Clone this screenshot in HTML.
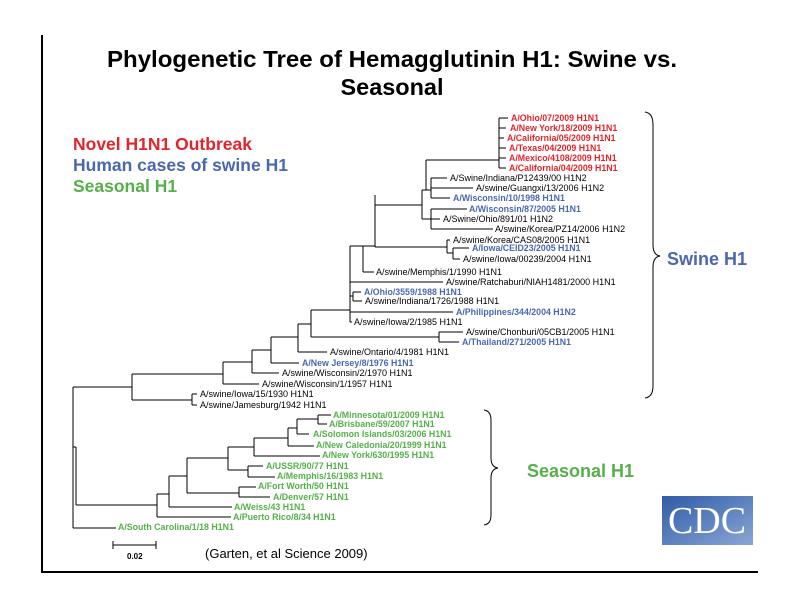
<!DOCTYPE html>
<html><head><meta charset="utf-8"><style>
html,body{margin:0;padding:0;background:#fff;}
svg{display:block;}
text{font-family:"Liberation Sans",Arial,sans-serif;}
.t{font-size:9px;fill:#000;}
.r{font-size:8.8px;fill:#e3242b;font-weight:bold;}
.b{font-size:8.8px;fill:#4a67b0;font-weight:bold;}
.g{font-size:8.8px;fill:#55b04a;font-weight:bold;}
</style></head><body>
<svg width="810" height="608" viewBox="0 0 810 608" xmlns="http://www.w3.org/2000/svg">
<defs><linearGradient id="cg" x1="0" y1="0" x2="1" y2="1"><stop offset="0" stop-color="#2f5ca6"/><stop offset="1" stop-color="#8aa6d6"/></linearGradient></defs>
<rect width="810" height="608" fill="#fff"/>
<line x1="42" y1="35" x2="42" y2="573" stroke="#000" stroke-width="2"/>
<line x1="41" y1="572" x2="758" y2="572" stroke="#000" stroke-width="2"/>
<text x="392" y="67" text-anchor="middle" font-size="23" font-weight="bold" textLength="570" lengthAdjust="spacingAndGlyphs">Phylogenetic Tree of Hemagglutinin H1: Swine vs.</text>
<text x="392" y="95" text-anchor="middle" font-size="23" font-weight="bold" textLength="103" lengthAdjust="spacingAndGlyphs">Seasonal</text>
<text x="73" y="150" font-size="17.5" font-weight="bold" fill="#e3242b">Novel H1N1 Outbreak</text>
<text x="73" y="171" font-size="17.5" font-weight="bold" fill="#4a67b0">Human cases of swine H1</text>
<text x="73" y="192" font-size="17.5" font-weight="bold" fill="#55b04a">Seasonal H1</text>
<g stroke="#000" stroke-width="1" fill="none">
<path d="M73 387V528M73 387H132M73 447H76M76 447V505M73 528H116"/>
<path d="M132 374V400M132 374H223M132 400H192M192 394V405M192 394H197M192 405H197"/>
<path d="M223 362V384M223 384H259M223 362H252M252 350V373M252 373H279M252 350H271"/>
<path d="M271 337V363M271 363H299M271 337H298M298 324V352M298 352H327M298 324H311"/>
<path d="M311 310V337M311 337H439M439 332V342M439 332H463M439 342H459M311 310H350"/>
<path d="M350 246V322M350 282H443M350 296H353M353 292V301M353 292H361M353 301H362M350 312H453M350 322H352"/>
<path d="M350 246H375M363 246V272M363 272H374M375 195V247M375 247H447M447 240V253M447 240H450M447 253H453M453 248V259M453 248H469M453 259H460"/>
<path d="M375 205H422M422 190V219M422 190H426M426 160V190M426 190H431M431 178V198M431 178H447M431 188H473M431 198H450"/>
<path d="M422 219H431M431 209V229M431 209H467M431 219H435M435 219H440M431 229H493"/>
<path d="M426 160H499M499 118V168M499 118H508M499 128H506M499 138H504M499 148H506M499 158H506M499 168H506"/>
<path d="M76 505H157M157 494V517M157 517H231M157 494H169M169 476V507M169 507H232M169 476H187M187 458V493M187 493H239M239 487V497M239 487H256M239 497H270"/>
<path d="M187 458H228M228 447V470M228 470H248M248 466V477M248 466H263M248 477H275M228 447H254M254 438V456M254 456H320M254 438H288M288 428V446M288 446H314M288 428H297M297 419V434M297 434H309M297 419H318M318 415V424M318 415H331M318 424H327"/>
<path d="M113 545H156M113 541V549M156 541V549"/>
<path d="M645 112Q653 113 653 125V245Q653 255 660 256Q653 257 653 267V386Q653 397 645 398"/>
<path d="M484 410Q491 411 491 420V458Q491 467 498 468Q491 469 491 478V515Q491 524 484 525"/>
</g>
<g>
<text class="r" x="511" y="121">A/Ohio/07/2009 H1N1</text>
<text class="r" x="510" y="131">A/New York/18/2009 H1N1</text>
<text class="r" x="507" y="141">A/California/05/2009 H1N1</text>
<text class="r" x="509" y="151">A/Texas/04/2009 H1N1</text>
<text class="r" x="509" y="161">A/Mexico/4108/2009 H1N1</text>
<text class="r" x="509" y="171">A/California/04/2009 H1N1</text>
<text class="t" x="450" y="181">A/Swine/Indiana/P12439/00 H1N2</text>
<text class="t" x="476" y="191">A/swine/Guangxi/13/2006 H1N2</text>
<text class="b" x="453" y="201">A/Wisconsin/10/1998 H1N1</text>
<text class="b" x="469" y="212">A/Wisconsin/87/2005 H1N1</text>
<text class="t" x="443" y="222">A/Swine/Ohio/891/01 H1N2</text>
<text class="t" x="495" y="232">A/swine/Korea/PZ14/2006 H1N2</text>
<text class="t" x="453" y="243">A/swine/Korea/CAS08/2005 H1N1</text>
<text class="b" x="472" y="251">A/Iowa/CEID23/2005 H1N1</text>
<text class="t" x="463" y="262">A/swine/Iowa/00239/2004 H1N1</text>
<text class="t" x="376" y="275">A/swine/Memphis/1/1990 H1N1</text>
<text class="t" x="446" y="285">A/swine/Ratchaburi/NIAH1481/2000 H1N1</text>
<text class="b" x="364" y="295">A/Ohio/3559/1988 H1N1</text>
<text class="t" x="365" y="304">A/swine/Indiana/1726/1988 H1N1</text>
<text class="b" x="456" y="315">A/Philippines/344/2004 H1N2</text>
<text class="t" x="354" y="325">A/swine/Iowa/2/1985 H1N1</text>
<text class="t" x="466" y="335">A/swine/Chonburi/05CB1/2005 H1N1</text>
<text class="b" x="462" y="345">A/Thailand/271/2005 H1N1</text>
<text class="t" x="330" y="355">A/swine/Ontario/4/1981 H1N1</text>
<text class="b" x="302" y="366">A/New Jersey/8/1976 H1N1</text>
<text class="t" x="282" y="376">A/swine/Wisconsin/2/1970 H1N1</text>
<text class="t" x="262" y="387">A/swine/Wisconsin/1/1957 H1N1</text>
<text class="t" x="200" y="397">A/swine/Iowa/15/1930 H1N1</text>
<text class="t" x="200" y="408">A/swine/Jamesburg/1942 H1N1</text>
<text class="g" x="333" y="418">A/Minnesota/01/2009 H1N1</text>
<text class="g" x="329" y="427">A/Brisbane/59/2007 H1N1</text>
<text class="g" x="313" y="437">A/Solomon Islands/03/2006 H1N1</text>
<text class="g" x="316" y="448">A/New Caledonia/20/1999 H1N1</text>
<text class="g" x="322" y="458">A/New York/630/1995 H1N1</text>
<text class="g" x="266" y="469">A/USSR/90/77 H1N1</text>
<text class="g" x="277" y="479">A/Memphis/16/1983 H1N1</text>
<text class="g" x="258" y="489">A/Fort Worth/50 H1N1</text>
<text class="g" x="273" y="500">A/Denver/57 H1N1</text>
<text class="g" x="234" y="510">A/Weiss/43 H1N1</text>
<text class="g" x="233" y="520">A/Puerto Rico/8/34 H1N1</text>
<text class="g" x="118" y="530">A/South Carolina/1/18 H1N1</text>
</g>
<text x="127" y="559" font-size="8" font-weight="bold">0.02</text>
<text x="205" y="558" font-size="13">(Garten, et al Science 2009)</text>
<text x="667" y="265" font-size="18" font-weight="bold" fill="#4a67b0">Swine H1</text>
<text x="527" y="477" font-size="18" font-weight="bold" fill="#55b04a">Seasonal H1</text>
<rect x="662" y="496" width="91" height="49" fill="url(#cg)"/>
<text x="707" y="533" text-anchor="middle" style="font-family:'Liberation Serif',serif;font-size:38px" fill="#fff" textLength="78" lengthAdjust="spacingAndGlyphs">CDC</text>
</svg>
</body></html>
